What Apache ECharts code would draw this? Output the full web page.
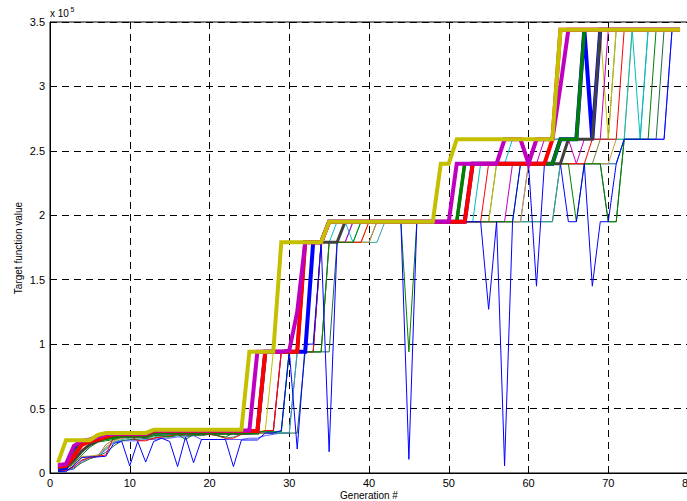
<!DOCTYPE html>
<html>
<head>
<meta charset="utf-8">
<script src="https://cdn.jsdelivr.net/npm/echarts/dist/echarts.min.js"></script>
<style>
  html, body { margin: 0; padding: 0; background: #fff; }
  #chart { width: 687px; height: 501px; }
</style>
</head>
<body>
<div id="chart"></div>
<script>
// Best-so-far target function value per generation for each run (units of 1e5).
const generations = [
  1,2,3,4,5,6,7,8,9,10,11,12,13,14,15,16,17,18,19,20,
  21,22,23,24,25,26,27,28,29,30,31,32,33,34,35,36,37,38,39,40,
  41,42,43,44,45,46,47,48,49,50,51,52,53,54,55,56,57,58,59,60,
  61,62,63,64,65,66,67,68,69,70,71,72,73,74,75,76,77,78,79
];

const xTicks = [0, 10, 20, 30, 40, 50, 60, 70, 80];
const yTicks = [0, 0.5, 1, 1.5, 2, 2.5, 3, 3.5];

// thin runs
const runBlue = [
  0.01,0.01,0.06,0.12,0.125,0.125,0.13,0.23,0.245,0.055,
  0.245,0.085,0.245,0.27,0.245,0.05,0.28,0.08,0.26,0.26,
  0.26,0.26,0.05,0.256,0.256,0.256,0.31,0.31,0.33,0.95,
  0.186,1.00,1.00,1.79,0.165,1.79,1.95,1.95,1.95,1.95,
  1.95,1.95,1.95,1.95,0.106,1.95,1.95,1.95,1.95,1.95,
  1.95,1.95,1.95,1.95,1.27,1.95,0.055,1.95,2.40,2.40,
  1.45,2.40,2.40,2.40,1.95,1.95,2.40,1.45,1.95,1.95,
  2.40,2.59,2.59,2.59,2.59,2.59,2.59,3.44,3.44
];
const runLightBlue = [
  0.01,0.02,0.03,0.09,0.12,0.13,0.18,0.24,0.25,0.25,
  0.25,0.26,0.26,0.27,0.27,0.28,0.28,0.29,0.26,0.26,
  0.26,0.26,0.26,0.26,0.27,0.27,0.29,0.30,0.31,0.31,
  0.94,0.94,1.79,1.79,1.79,1.79,1.79,1.95,1.95,1.95,
  1.95,1.95,1.95,1.95,1.95,1.95,1.95,1.95,1.95,1.95,
  1.95,1.95,1.95,1.95,1.95,1.95,1.95,1.95,1.95,2.40,
  2.40,2.40,2.40,2.40,2.40,2.40,2.40,2.40,2.40,2.40,
  2.40,2.59,2.59,2.59,2.59,2.59,2.59,3.44,3.44
];
const runGreen = [
  0.02,0.03,0.08,0.14,0.20,0.24,0.25,0.26,0.28,0.29,
  0.29,0.27,0.29,0.29,0.28,0.30,0.26,0.30,0.30,0.31,
  0.29,0.28,0.31,0.32,0.32,0.32,0.32,0.32,0.32,0.94,
  0.94,0.94,0.94,0.94,1.79,1.79,1.79,1.79,1.95,1.95,
  1.95,1.95,1.95,1.95,0.94,1.95,1.95,1.95,1.95,1.95,
  1.95,1.95,1.95,1.95,1.95,1.95,1.95,1.95,2.40,2.40,
  2.40,2.40,2.40,2.40,2.40,1.95,2.40,2.40,2.40,1.95,
  1.95,2.59,2.59,2.59,2.59,3.44,3.44,3.44,3.44
];
const runRed = [
  0.02,0.02,0.05,0.10,0.12,0.13,0.14,0.28,0.29,0.29,
  0.25,0.25,0.27,0.28,0.29,0.30,0.30,0.30,0.30,0.30,
  0.29,0.27,0.27,0.30,0.31,0.31,0.33,0.33,0.94,0.94,
  0.94,0.94,0.94,1.79,1.79,1.79,1.79,1.79,1.79,1.95,
  1.95,1.95,1.95,1.95,1.95,1.95,1.95,1.95,1.95,1.95,
  1.95,1.95,1.95,1.95,2.40,2.40,2.40,2.40,2.40,2.40,
  2.40,2.40,2.40,2.40,2.40,2.40,2.40,2.59,2.59,2.59,
  2.59,3.44,3.44,3.44,3.44,3.44,3.44,3.44,3.44
];
const runCyan = [
  0.03,0.04,0.09,0.16,0.22,0.25,0.26,0.27,0.28,0.29,
  0.29,0.29,0.30,0.30,0.30,0.31,0.31,0.31,0.31,0.31,
  0.31,0.31,0.31,0.31,0.32,0.32,0.32,0.32,0.32,0.94,
  0.94,0.94,0.94,1.79,1.79,1.95,1.95,1.79,1.95,1.95,
  1.95,1.95,1.95,1.95,1.95,1.95,1.95,1.95,1.95,1.95,
  1.95,1.95,1.95,2.40,2.40,2.40,2.40,2.59,2.59,2.59,
  2.59,2.59,2.59,2.59,2.59,2.59,2.59,2.59,2.59,2.59,
  2.59,2.59,3.44,2.59,3.44,3.44,3.44,3.44,3.44
];
const runMagenta = [
  0.03,0.03,0.10,0.18,0.23,0.25,0.27,0.28,0.28,0.29,
  0.29,0.30,0.31,0.31,0.32,0.32,0.32,0.32,0.32,0.32,
  0.32,0.32,0.32,0.32,0.32,0.32,0.32,0.32,0.94,0.94,
  0.94,0.94,0.94,1.79,1.79,1.79,1.79,1.95,1.95,1.95,
  1.95,1.95,1.95,1.95,1.95,1.95,1.95,1.95,1.95,1.95,
  1.95,1.95,1.95,1.95,1.95,1.95,1.95,2.40,2.40,2.40,
  2.40,2.59,2.59,2.59,2.59,2.40,2.59,2.59,2.59,3.44,
  3.44,3.44,3.44,3.44,3.44,3.44,3.44,3.44,3.44
];
const runYellow = [
  0.04,0.05,0.12,0.20,0.24,0.25,0.27,0.28,0.29,0.29,
  0.29,0.29,0.30,0.31,0.31,0.32,0.32,0.32,0.32,0.32,
  0.32,0.32,0.32,0.32,0.32,0.32,0.33,0.94,0.94,0.94,
  0.94,0.94,1.79,1.79,1.79,1.79,1.79,1.79,1.79,1.95,
  1.95,1.95,1.95,1.95,1.95,1.95,1.95,1.95,1.95,1.95,
  1.95,1.95,1.95,1.95,1.95,2.40,2.40,2.40,2.40,2.40,
  2.40,2.40,2.40,2.40,2.59,2.59,2.59,2.59,3.44,2.59,
  3.44,3.44,3.44,3.44,3.44,3.44,3.44,3.44,3.44
];
const runTan = [
  0.03,0.04,0.08,0.13,0.13,0.14,0.20,0.25,0.27,0.28,
  0.28,0.29,0.30,0.30,0.31,0.31,0.31,0.31,0.31,0.31,
  0.31,0.31,0.31,0.31,0.31,0.31,0.31,0.33,0.94,0.94,
  0.94,0.94,0.94,1.79,1.79,1.79,1.79,1.79,1.79,1.79,
  1.95,1.95,1.95,1.95,1.95,1.95,1.95,1.95,1.95,1.95,
  1.95,1.95,1.95,1.95,1.95,1.95,1.95,1.95,1.95,2.40,
  2.40,2.40,2.40,2.40,2.40,2.40,2.40,2.40,2.40,2.40,
  2.59,2.59,3.44,3.44,3.44,3.44,3.44,3.44,3.44
];
const runOlive = [
  0.02,0.03,0.07,0.12,0.13,0.13,0.22,0.26,0.27,0.28,
  0.28,0.29,0.29,0.30,0.30,0.30,0.31,0.31,0.31,0.31,
  0.31,0.31,0.31,0.31,0.31,0.31,0.31,0.31,0.94,0.94,
  0.94,0.94,0.94,0.94,1.79,1.79,1.95,1.95,1.95,1.95,
  1.95,1.95,1.95,1.95,1.95,1.95,1.95,1.95,1.95,1.95,
  1.95,1.95,1.95,1.95,1.95,2.40,2.40,2.40,2.40,2.40,
  2.40,2.40,2.40,2.40,2.40,2.40,2.40,2.40,2.59,2.59,
  3.44,3.44,3.44,3.44,3.44,3.44,3.44,3.44,3.44
];
const runTeal = [
  0.02,0.02,0.05,0.10,0.12,0.14,0.19,0.24,0.26,0.27,
  0.27,0.28,0.28,0.29,0.29,0.30,0.30,0.30,0.30,0.30,
  0.29,0.27,0.28,0.30,0.30,0.31,0.31,0.31,0.31,0.31,
  0.94,0.94,0.94,0.94,1.79,1.79,1.79,1.79,1.79,1.79,
  1.79,1.95,1.95,1.95,1.95,1.95,1.95,1.95,1.95,1.95,
  1.95,1.95,1.95,1.95,1.95,1.95,1.95,1.95,1.95,1.95,
  1.95,1.95,1.95,2.40,2.40,2.40,2.40,2.40,2.40,2.40,
  2.40,2.59,2.59,2.59,3.44,3.44,3.44,3.44,3.44
];
const runDarkTeal = [
  0.01,0.02,0.04,0.08,0.11,0.13,0.16,0.21,0.25,0.26,
  0.26,0.27,0.27,0.28,0.28,0.29,0.29,0.29,0.29,0.30,
  0.30,0.30,0.30,0.30,0.30,0.31,0.31,0.31,0.31,0.31,
  0.31,0.94,0.94,0.94,0.94,1.79,1.79,1.79,1.79,1.79,
  1.95,1.95,1.95,1.95,1.95,1.95,1.95,1.95,1.95,1.95,
  1.95,1.95,1.95,1.95,1.95,1.95,1.95,1.95,1.95,1.95,
  1.95,1.95,1.95,2.40,2.40,2.40,2.40,2.40,2.40,1.95,
  1.95,2.59,2.59,2.59,2.59,2.59,3.44,3.44,3.44
];

// thick runs
const bestBlue = [
  0.03,0.04,0.19,0.24,0.25,0.27,0.29,0.30,0.30,0.30,
  0.30,0.30,0.32,0.32,0.32,0.32,0.32,0.32,0.32,0.32,
  0.32,0.32,0.32,0.32,0.32,0.32,0.94,0.94,0.94,0.94,
  0.94,0.94,1.79,1.79,1.95,1.95,1.95,1.95,1.95,1.95,
  1.95,1.95,1.95,1.95,1.95,1.95,1.95,1.95,1.95,1.95,
  1.95,1.95,2.40,2.40,2.40,2.40,2.40,2.40,2.40,2.40,
  2.40,2.40,2.40,2.59,2.59,2.59,3.44,2.59,3.44,3.44,
  3.44,3.44,3.44,3.44,3.44,3.44,3.44,3.44,3.44
];
const bestGray = [
  0.04,0.05,0.10,0.17,0.22,0.25,0.27,0.285,0.285,0.285,
  0.285,0.285,0.31,0.31,0.31,0.31,0.31,0.31,0.31,0.31,
  0.31,0.31,0.31,0.31,0.31,0.31,0.94,0.94,0.94,0.94,
  0.94,1.79,1.79,1.79,1.79,1.79,1.95,1.95,1.95,1.95,
  1.95,1.95,1.95,1.95,1.95,1.95,1.95,1.95,1.95,1.95,
  1.95,2.40,2.40,2.40,2.40,2.40,2.40,2.40,2.40,2.40,
  2.40,2.40,2.40,2.40,2.59,2.59,2.59,2.59,3.44,3.44,
  3.44,3.44,3.44,3.44,3.44,3.44,3.44,3.44,3.44
];
const bestGreen = [
  0.05,0.055,0.15,0.23,0.245,0.26,0.27,0.28,0.29,0.29,
  0.29,0.29,0.315,0.315,0.315,0.315,0.315,0.315,0.315,0.315,
  0.315,0.315,0.315,0.315,0.315,0.315,0.94,0.94,0.94,0.94,
  0.94,1.79,1.79,1.79,1.95,1.95,1.95,1.95,1.95,1.95,
  1.95,1.95,1.95,1.95,1.95,1.95,1.95,1.95,1.95,1.95,
  1.95,2.40,2.40,2.40,2.40,2.40,2.40,2.40,2.40,2.40,
  2.40,2.40,2.40,2.59,2.59,2.59,3.44,3.44,3.44,3.44,
  3.44,3.44,3.44,3.44,3.44,3.44,3.44,3.44,3.44
];
const bestRed = [
  0.05,0.055,0.13,0.22,0.245,0.26,0.28,0.30,0.30,0.30,
  0.30,0.30,0.325,0.325,0.325,0.325,0.325,0.325,0.325,0.325,
  0.325,0.325,0.325,0.325,0.325,0.325,0.94,0.94,0.94,0.94,
  0.94,1.79,1.79,1.79,1.95,1.95,1.95,1.95,1.95,1.95,
  1.95,1.95,1.95,1.95,1.95,1.95,1.95,1.95,1.95,1.95,
  1.95,1.95,2.40,2.40,2.40,2.40,2.40,2.40,2.40,2.40,
  2.40,2.40,2.59,3.44,3.44,3.44,3.44,3.44,3.44,3.44,
  3.44,3.44,3.44,3.44,3.44,3.44,3.44,3.44,3.44
];
const bestMagenta = [
  0.06,0.07,0.21,0.25,0.26,0.28,0.30,0.305,0.305,0.305,
  0.305,0.305,0.33,0.33,0.33,0.33,0.33,0.33,0.33,0.33,
  0.33,0.33,0.33,0.33,0.33,0.94,0.94,0.94,0.94,0.95,
  1.25,1.79,1.79,1.79,1.95,1.95,1.95,1.95,1.95,1.95,
  1.95,1.95,1.95,1.95,1.95,1.95,1.95,1.95,1.95,1.95,
  2.40,2.40,2.40,2.40,2.40,2.40,2.59,2.59,2.59,2.40,
  2.59,2.59,2.59,3.00,3.44,3.44,3.44,3.44,3.44,3.44,
  3.44,3.44,3.44,3.44,3.44,3.44,3.44,3.44,3.44
];
const bestYellow = [
  0.08,0.255,0.255,0.255,0.255,0.295,0.31,0.31,0.31,0.31,
  0.31,0.31,0.335,0.335,0.335,0.335,0.335,0.335,0.335,0.335,
  0.335,0.335,0.335,0.335,0.94,0.94,0.94,0.94,1.79,1.79,
  1.79,1.79,1.79,1.79,1.95,1.95,1.95,1.95,1.95,1.95,
  1.95,1.95,1.95,1.95,1.95,1.95,1.95,1.95,2.40,2.40,
  2.59,2.59,2.59,2.59,2.59,2.59,2.59,2.59,2.59,2.59,
  2.59,2.59,2.59,3.44,3.44,3.44,3.44,3.44,3.44,3.44,
  3.44,3.44,3.44,3.44,3.44,3.44,3.44,3.44,3.44
];

// drawing order: thin runs underneath, thick runs on top
const runs = [
  { values: runLightBlue, color: '#5a5aff', width: 1 },
  { values: runDarkTeal,  color: '#1f6a4a', width: 1 },
  { values: runTeal,      color: '#35a0a0', width: 1 },
  { values: runOlive,     color: '#85804a', width: 1 },
  { values: runTan,       color: '#c89a40', width: 1 },
  { values: runYellow,    color: '#bfbf00', width: 1 },
  { values: runMagenta,   color: '#bf00bf', width: 1 },
  { values: runCyan,      color: '#00bfbf', width: 1 },
  { values: runRed,       color: '#ff0000', width: 1 },
  { values: runGreen,     color: '#008000', width: 1 },
  { values: runBlue,      color: '#0000ff', width: 1 },
  { values: bestBlue,     color: '#0000ff', width: 4 },
  { values: bestGray,     color: '#404040', width: 3 },
  { values: bestGreen,    color: '#008000', width: 3.5 },
  { values: bestRed,      color: '#ff0000', width: 4 },
  { values: bestMagenta,  color: '#c000c0', width: 4 },
  { values: bestYellow,   color: '#c4c000', width: 4 }
];

const FONT = 'Liberation Sans, Arial, Helvetica, sans-serif';

const chart = echarts.init(document.getElementById('chart'), null, { renderer: 'svg' });

const axisCommon = {
  axisLine: { onZero: false, lineStyle: { color: '#000', width: 1 } },
  axisTick: { inside: true, length: 4, lineStyle: { color: '#000' } },
  splitLine: { show: true, lineStyle: { color: '#000', width: 1, type: [7, 5] } }
};

chart.setOption({
  animation: false,
  backgroundColor: '#fff',
  grid: {
    left: 50, top: 22, width: 638, height: 451,
    containLabel: false, outerBoundsMode: 'none',
    show: true, borderColor: '#000', borderWidth: 1
  },
  xAxis: Object.assign({
    type: 'value',
    min: xTicks[0],
    max: xTicks[xTicks.length - 1],
    interval: xTicks[1] - xTicks[0],
    axisLabel: { color: '#000', fontSize: 11, fontFamily: FONT, margin: 4 }
  }, axisCommon),
  yAxis: Object.assign({
    type: 'value',
    min: yTicks[0],
    max: yTicks[yTicks.length - 1],
    interval: yTicks[1] - yTicks[0],
    axisLabel: { color: '#000', fontSize: 11, fontFamily: FONT, margin: 5 }
  }, axisCommon),
  graphic: [
    { type: 'text', x: 18, y: 248, rotation: Math.PI / 2,
      style: { text: 'Target function value', font: '10px ' + FONT, fill: '#000',
               textAlign: 'center', textVerticalAlign: 'middle' } },
    { type: 'text', x: 369, y: 495,
      style: { text: 'Generation #', font: '10px ' + FONT, fill: '#000',
               textAlign: 'center', textVerticalAlign: 'middle' } },
    { type: 'text', x: 50, y: 18,
      style: { text: 'x 10', font: '10px ' + FONT, fill: '#000',
               textAlign: 'left', textVerticalAlign: 'bottom' } },
    { type: 'text', x: 70.5, y: 13,
      style: { text: '5', font: '7px ' + FONT, fill: '#000',
               textAlign: 'left', textVerticalAlign: 'bottom' } }
  ],
  series: runs.map(function (run) {
    return {
      type: 'line',
      data: generations.map(function (g, i) { return [g, run.values[i]]; }),
      showSymbol: false,
      symbol: 'none',
      lineStyle: { color: run.color, width: run.width, join: 'miter' },
      itemStyle: { color: run.color },
      emphasis: { disabled: true },
      silent: true
    };
  })
});
</script>
</body>
</html>
